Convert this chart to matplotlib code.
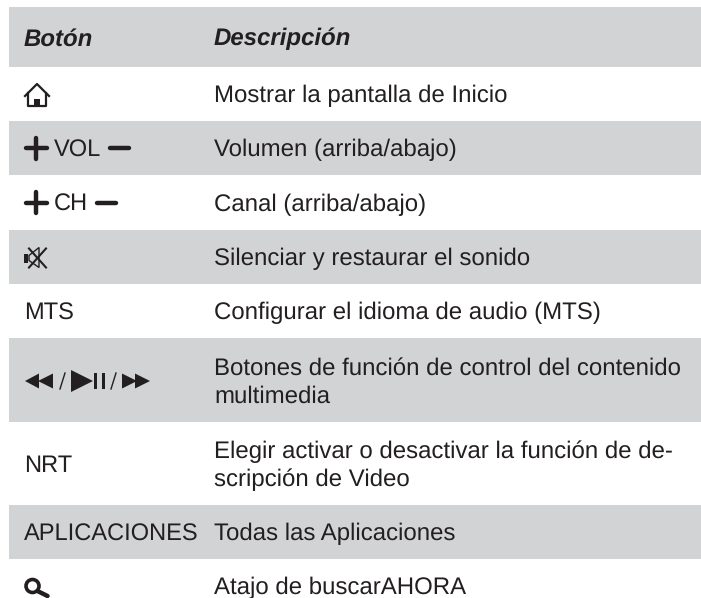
"""Button table (Spanish remote control manual) drawn as a matplotlib figure."""
import matplotlib
matplotlib.use("Agg")
import matplotlib.pyplot as plt
from matplotlib.patches import Circle, Polygon, Rectangle

W, H = 701, 598
GREY = "#d1d3d4"
INK = "#231f20"

headers = ["Botón", "Descripción"]
buttons = ["", "{plus} VOL {minus}", "{plus} CH {minus}", "", "MTS", "", "NRT", "APLICACIONES", ""]
descriptions = [
    ["Mostrar la pantalla de Inicio"],
    ["Volumen (arriba/abajo)"],
    ["Canal (arriba/abajo)"],
    ["Silenciar y restaurar el sonido"],
    ["Configurar el idioma de audio (MTS)"],
    ["Botones de función de control del contenido", "multimedia"],
    ["Elegir activar o desactivar la función de de-", "scripción de Video"],
    ["Todas las Aplicaciones"],
    ["Atajo de buscarAHORA"],
]
# row tops and bottoms in image pixels, header first (last row runs off the page)
row_edges = [7, 67, 121, 175, 230, 284, 338, 422, 505, 559, 613]
row_shaded = [True, False, True, False, True, False, True, False, True, False]

plt.rcParams["font.family"] = ["Liberation Sans", "DejaVu Sans"]
plt.rcParams["text.hinting"] = "no_hinting"
fig = plt.figure(figsize=(W / 100, H / 100), dpi=100)
ax = fig.add_axes([0, 0, 1, 1])
ax.set_xlim(0, W)
ax.set_ylim(H, 0)
ax.axis("off")

X_LEFT, X_RIGHT = 9, 701
COL1, COL2 = 24, 214
FS = 17.3
FS_BUTTON = 17.0
BASE = 8.5       # row centre to text baseline
LINE_GAP = 28


def plus(x, y, s=10.5):
    ax.plot([x - s, x + s], [y, y], color=INK, lw=3.2, solid_capstyle="round")
    ax.plot([x, x], [y - s, y + s], color=INK, lw=3.2, solid_capstyle="round")


def minus(x, y, s=9.5):
    ax.plot([x - s, x + s], [y, y], color=INK, lw=3.2, solid_capstyle="round")


def home_icon(x, y):
    ax.plot([x - 12, x, x + 12], [y + 1, y - 11, y + 1], color=INK, lw=1.6)
    ax.plot([x - 9, x - 9, x + 9, x + 9], [y - 2, y + 11, y + 11, y - 2], color=INK, lw=1.6)
    ax.add_patch(Rectangle((x - 3, y + 4), 6, 7, color=INK, lw=0))


def mute_icon(x, y):
    ax.add_patch(Rectangle((x - 13, y - 4), 4, 9, color=INK, lw=0))
    ax.add_patch(Polygon([(x - 8, y - 2), (x + 2, y - 10), (x + 2, y + 10), (x - 8, y + 3)],
                         fill=False, ec=INK, lw=1.0))
    ax.plot([x - 8, x + 9], [y - 9, y + 10], color=INK, lw=1.5)
    ax.plot([x - 8, x + 9], [y + 10, y - 9], color=INK, lw=1.5)


def tri(tip, base, y, h):
    ax.add_patch(Polygon([(tip, y), (base, y - h), (base, y + h)], color=INK, lw=0))


def media_icons(y):
    tri(25, 39, y, 7.5)
    tri(38, 53, y, 7.5)
    ax.plot([60, 65], [y + 8, y - 8], color=INK, lw=1.0)
    tri(93, 71, y, 11)
    ax.add_patch(Rectangle((94, y - 8), 3.2, 16, color=INK, lw=0))
    ax.add_patch(Rectangle((102, y - 8), 3.2, 16, color=INK, lw=0))
    ax.plot([111, 116], [y + 8, y - 8], color=INK, lw=1.0)
    tri(137, 122, y, 7.5)
    tri(150, 135, y, 7.5)


def search_icon(x, y):
    ax.add_patch(Circle((x, y), 6.5, fill=False, ec=INK, lw=2.6))
    ax.plot([x + 5, x + 15], [y + 5, y + 10], color=INK, lw=3.2, solid_capstyle="round")


for top, bottom, shaded in zip(row_edges[:-1], row_edges[1:], row_shaded):
    if shaded:
        ax.add_patch(Rectangle((X_LEFT, top), X_RIGHT - X_LEFT, bottom - top, color=GREY, lw=0))

header_y = (row_edges[0] + row_edges[1]) / 2
for x, label in zip((COL1, COL2), headers):
    ax.text(x, header_y + BASE, label, fontsize=FS, fontweight="bold", fontstyle="italic",
            color=INK, va="baseline")

renderer = fig.canvas.get_renderer()
centres = [(a + b) / 2 for a, b in zip(row_edges[1:-1], row_edges[2:])]
for y, btn, lines in zip(centres, buttons, descriptions):
    for k, line in enumerate(lines):
        offset = (k - (len(lines) - 1) / 2) * LINE_GAP
        ax.text(COL2, y + BASE + offset, line, fontsize=FS, color=INK, va="baseline")
    if btn.startswith("{plus}"):
        plus(36, y)
        t = ax.text(54, y + BASE, btn.split()[1], fontsize=FS_BUTTON, color=INK, va="baseline")
        right = t.get_window_extent(renderer).x1
        minus(right + 18, y)
    elif btn:
        ax.text(COL1, y + BASE, btn, fontsize=FS_BUTTON, color=INK, va="baseline")

home_icon(37, 95)
mute_icon(37, 257.5)
media_icons(381)
search_icon(32.5, 586)

fig.savefig("out.png", dpi=100)
